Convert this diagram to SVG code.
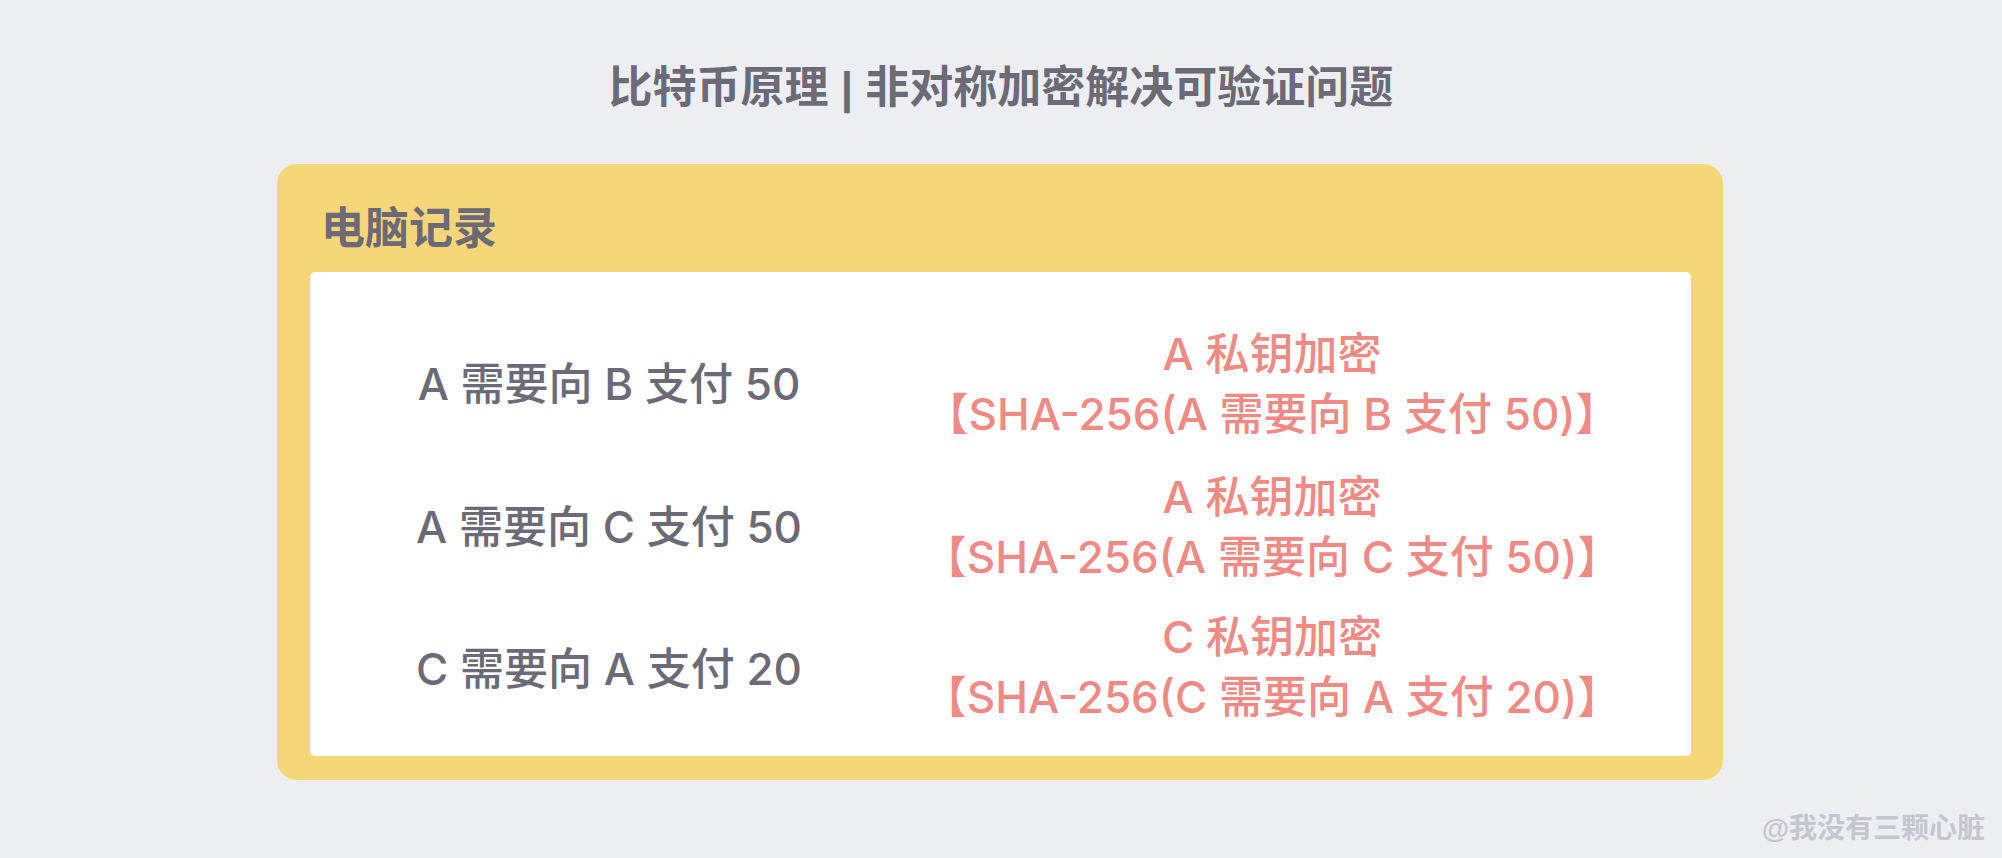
<svg xmlns="http://www.w3.org/2000/svg" width="2002" height="858" viewBox="0 0 2002 858">
<style>
text{font-family:"Liberation Sans","Noto Sans CJK SC",sans-serif;font-weight:bold;}
.t{font-size:44px;fill:#6B6A76;}
.l,.r{font-family:"Inter","Noto Sans CJK SC",sans-serif;font-size:44px;text-anchor:middle;font-weight:500;}
.l{fill:#6B6A76;}
.r{fill:#F08A85;}
.w{font-size:28px;fill:#C4C7CF;text-anchor:end;}
</style>
<rect width="2002" height="858" fill="#EDEEF2"/>
<g id="title">
<text class="t" x="1001" y="103" text-anchor="middle">比特币原理 | 非对称加密解决可验证问题</text>
</g>
<g id="record">
<rect x="277" y="164" width="1446" height="616" rx="20" fill="#F7D67A"/>
<text class="t" x="321" y="244">电脑记录</text>
<rect x="310" y="272" width="1381" height="484" rx="5" fill="#FFFFFF"/>
</g>
<g id="row1">
<text class="l" x="609" y="400">A 需要向 B 支付 50</text>
<text class="r" x="1272" y="370">A 私钥加密</text>
<text class="r" x="1272" y="430">【SHA-256(A 需要向 B 支付 50)】</text>
</g>
<g id="row2">
<text class="l" x="609" y="543">A 需要向 C 支付 50</text>
<text class="r" x="1272" y="513">A 私钥加密</text>
<text class="r" x="1272" y="573">【SHA-256(A 需要向 C 支付 50)】</text>
</g>
<g id="row3">
<text class="l" x="609" y="685">C 需要向 A 支付 20</text>
<text class="r" x="1272" y="653">C 私钥加密</text>
<text class="r" x="1272" y="713">【SHA-256(C 需要向 A 支付 20)】</text>
</g>
<g id="connectors"/>
<g id="watermark">
<text class="w" x="1985" y="838">@我没有三颗心脏</text>
</g>
</svg>
